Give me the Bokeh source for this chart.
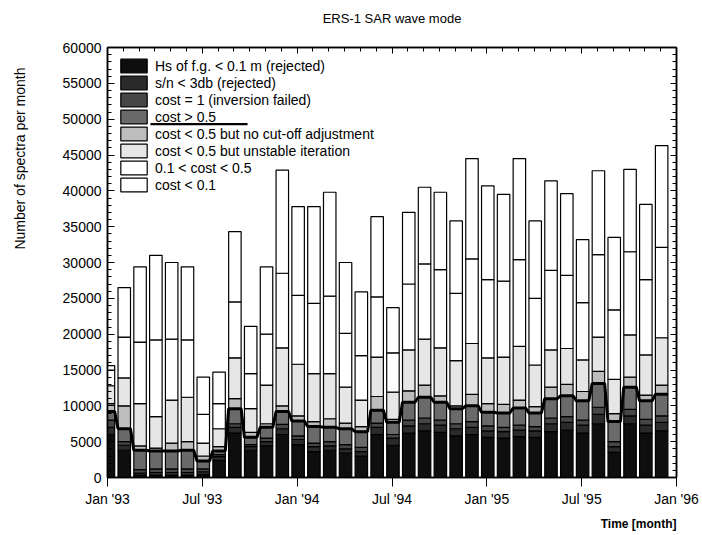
import numpy as np
from bokeh.plotting import figure
from bokeh.models import (FixedTicker, LinearAxis, Title, BoxAnnotation,
                          ColumnDataSource, CustomJSTickFormatter)
from bokeh.embed import file_html
from bokeh.resources import INLINE

FONT = "Liberation Sans"

# ---------------- data ----------------
months = list(range(36))  # 0 = Jan '93 ... 35 = Dec '95
tick_positions = [0, 6, 12, 18, 24, 30, 36]
tick_labels = ["Jan '93", "Jul '93", "Jan '94", "Jul '94", "Jan '95", "Jul '95", "Jan '96"]

categories = ["Hs of f.g. < 0.1 m (rejected)",
              "s/n < 3db (rejected)",
              "cost = 1 (inversion failed)",
              "cost > 0.5",
              "cost < 0.5 but no cut-off adjustment",
              "cost < 0.5 but unstable iteration",
              "0.1 < cost < 0.5",
              "cost < 0.1"]

hs_rejected = [6000, 3800, 300, 300, 300, 300, 400, 2400, 6200, 3800, 4400, 6000,
               4600, 3600, 3800, 3400, 3000, 6000, 4500, 6200, 6500, 6300, 5800, 6000,
               5600, 5500, 5700, 5600, 6400, 6600, 6200, 7500, 3500, 7500, 6200, 6500]
sn_rejected = [1000, 700, 300, 400, 400, 400, 400, 500, 800, 500, 600, 800,
               700, 700, 600, 600, 600, 1000, 1000, 1000, 1000, 1000, 1000, 1000,
               900, 900, 900, 900, 1100, 1100, 1100, 1300, 800, 1100, 1100, 1200]
inversion_failed = [1000, 500, 500, 500, 500, 500, 400, 300, 500, 300, 500, 600,
                    500, 500, 600, 600, 600, 600, 500, 800, 800, 700, 700, 800,
                    700, 600, 700, 600, 800, 800, 700, 1000, 700, 900, 800, 900]
cost_gt_05 = [1200, 1800, 2700, 2500, 2500, 2600, 1100, 500, 2100, 1000, 1500, 1800,
              2100, 2300, 2000, 2200, 2200, 1800, 1700, 2500, 2900, 2500, 2100, 2200,
              1900, 2000, 2400, 1900, 2700, 2900, 2700, 3300, 2800, 3100, 2600, 3000]
no_cutoff = [1100, 3200, 600, 400, 1100, 1200, 700, 600, 1400, 700, 500, 800,
             700, 700, 1200, 800, 700, 1900, 400, 1600, 1700, 900, 400, 1600,
             1200, 1200, 1100, 900, 1600, 1600, 1300, 1700, 1100, 1400, 800, 1300]
unstable = [2500, 3900, 5900, 4400, 6000, 6200, 1800, 2500, 5700, 3300, 5400, 8100,
            7200, 6700, 6300, 5000, 3700, 5500, 3800, 5700, 6400, 6700, 6300, 7100,
            6400, 6600, 7500, 5800, 5200, 5000, 4400, 4800, 4800, 5900, 5600, 6600]
cost_01_05 = [2200, 5700, 8600, 10700, 8500, 8000, 4000, 3500, 7800, 4900, 7100, 10400,
              9600, 9800, 10800, 7500, 6200, 8400, 5500, 9200, 10500, 10900, 9400, 11800,
              10900, 10600, 12100, 9300, 11100, 10200, 8000, 11500, 9700, 11600, 10500, 12600]
cost_lt_01 = [600, 6900, 10500, 11800, 10700, 10200, 5200, 4400, 9800, 6600, 9400, 14400,
              12400, 13500, 14500, 9900, 8900, 11200, 6300, 10000, 10700, 10800, 10100, 14000,
              13100, 12100, 14100, 10800, 12500, 11400, 8800, 11700, 10100, 11500, 10500, 14200]

# ---------------- styles ----------------
fills = ["#0e0e0e", "#2a2a2a", "#464646", "#6a6a6a", "#bdbdbd", "#e6e6e6", "#ffffff", "#ffffff"]
bar_offset = 0.06
bar_width = 0.79

keys = ["hs", "sn", "inv", "cgt", "nocut", "unst", "c0105", "clt01"]
src = ColumnDataSource(dict(
    x=[m + bar_offset for m in months],
    hs=hs_rejected, sn=sn_rejected, inv=inversion_failed, cgt=cost_gt_05,
    nocut=no_cutoff, unst=unstable, c0105=cost_01_05, clt01=cost_lt_01))

p = figure(width=702, height=535, x_range=(0, 36), y_range=(0, 60000),
           output_backend="svg", toolbar_location=None,
           min_border_left=107, min_border_right=26,
           min_border_top=47, min_border_bottom=50)
p.background_fill_color = "white"
p.border_fill_color = "white"
p.grid.visible = False
p.outline_line_color = "black"
p.outline_line_width = 1.5

p.title.text = "ERS-1 SAR wave mode"
p.title.align = "center"
p.title.text_font = FONT
p.title.text_font_size = "13px"
p.title.text_font_style = "normal"
p.title.text_color = "black"
p.title.standoff = 11

p.vbar_stack(keys, x="x", width=bar_width, source=src, fill_color=fills,
             line_color="black", line_width=1.2, legend_label=categories)

# thick line at the top of the "cost > 0.5" class
cum4 = (np.array(hs_rejected) + np.array(sn_rejected) +
        np.array(inversion_failed) + np.array(cost_gt_05))
xc = np.array(months) + bar_offset
lx = np.column_stack([xc - bar_width / 2, xc + bar_width / 2]).ravel()
ly = np.repeat(cum4, 2)
p.line(lx, ly, line_width=3, line_color="black")

# axes
yt = FixedTicker(ticks=list(range(0, 60001, 5000)), minor_ticks=list(range(0, 60001, 1000)))
xt = FixedTicker(ticks=tick_positions, minor_ticks=months + [36])

yax = p.yaxis[0]
yax.ticker = yt
yax.major_tick_in = 7
yax.major_tick_out = 0
yax.minor_tick_in = 4
yax.minor_tick_out = 0
yax.major_label_text_font = FONT
yax.major_label_text_font_size = "14px"
yax.major_label_text_color = "black"
yax.major_label_standoff = 6
yax.axis_line_width = 1.5

xax = p.xaxis[0]
xax.ticker = xt
xax.major_label_overrides = {t: l for t, l in zip(tick_positions, tick_labels)}
xax.major_tick_in = 0
xax.major_tick_out = 9
xax.minor_tick_line_color = None
xax.major_label_text_font = FONT
xax.major_label_text_font_size = "14px"
xax.major_label_text_color = "black"
xax.major_label_standoff = 4
xax.axis_line_width = 1.5

blank = CustomJSTickFormatter(code="return ''")
rax = LinearAxis(ticker=yt, formatter=blank, major_tick_in=6, major_tick_out=0,
                 minor_tick_in=4, minor_tick_out=0, major_label_standoff=0,
                 axis_line_width=1.5)
p.add_layout(rax, "right")
tax = LinearAxis(ticker=xt, formatter=blank, major_tick_in=6, major_tick_out=0,
                 minor_tick_in=4, minor_tick_out=0, major_label_standoff=0,
                 axis_line_width=1.5)
p.add_layout(tax, "above")

# invisible spacers (only their tick extent reserves room)
top_spacer = LinearAxis(ticker=xt, formatter=blank, axis_line_color=None,
                        major_tick_line_color=None, minor_tick_line_color=None,
                        major_tick_in=0, major_tick_out=16, minor_tick_in=0,
                        minor_tick_out=0, major_label_standoff=0)
p.add_layout(top_spacer, "above")
left_spacer = LinearAxis(ticker=yt, formatter=blank, axis_line_color=None,
                         major_tick_line_color=None, minor_tick_line_color=None,
                         major_tick_in=0, major_tick_out=25, minor_tick_in=0,
                         minor_tick_out=0, major_label_standoff=0)
p.add_layout(left_spacer, "left")

p.add_layout(Title(text="Number of spectra per month", align="right", offset=20,
                   text_font=FONT, text_font_size="14px", text_font_style="normal",
                   text_color="black", standoff=14), "left")
p.add_layout(Title(text="Time [month]", align="right", text_font=FONT,
                   text_font_size="12px", text_font_style="bold",
                   text_color="black"), "below")

# legend
lg = p.legend[0]
lg.location = "top_left"
lg.margin = 10
lg.padding = 0
lg.spacing = 0
lg.glyph_width = 33
lg.glyph_height = 17
lg.label_height = 17
lg.label_standoff = 5
lg.label_text_font = FONT
lg.label_text_font_size = "14px"
lg.label_text_color = "black"
lg.border_line_color = None
lg.background_fill_alpha = 0

# separator line drawn in the legend under "cost > 0.5"
p.add_layout(BoxAnnotation(left=2.72, right=8.86, bottom=49150, top=49480,
                           fill_color="black", fill_alpha=1, line_color=None))

open("out.html", "w").write(file_html(p, INLINE))
